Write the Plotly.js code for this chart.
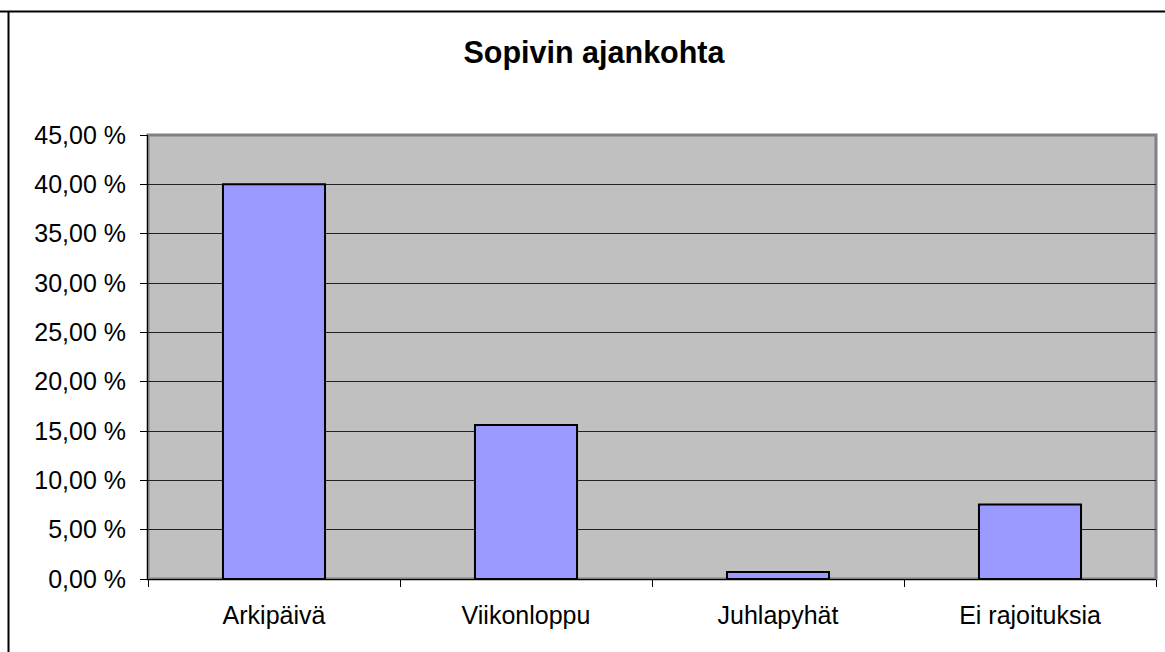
<!DOCTYPE html>
<html>
<head>
<meta charset="utf-8">
<script src="https://cdn.plot.ly/plotly-3.0.1.min.js"></script>
<style>
html,body{margin:0;padding:0;background:#fff;}
#chart{width:1165px;height:652px;}
</style>
</head>
<body>
<div id="chart"></div>
<script>
const titleText = "Sopivin ajankohta";
const categories = ["Arkipäivä", "Viikonloppu", "Juhlapyhät", "Ei rajoituksia"];
const values = [40.0, 15.6, 0.7, 7.55];
const yTickVals = [0, 5, 10, 15, 20, 25, 30, 35, 40, 45];
const yTickText = ["0,00 %", "5,00 %", "10,00 %", "15,00 %", "20,00 %", "25,00 %", "30,00 %", "35,00 %", "40,00 %", "45,00 %"];

const FONT = "Liberation Sans, Arial, sans-serif";

const trace = {
  type: "bar",
  x: categories,
  y: values,
  marker: {color: "#9999FF", line: {color: "#000000", width: 2}},
  hoverinfo: "skip"
};

const layout = {
  width: 1165,
  height: 652,
  margin: {l: 148, r: 9, t: 135, b: 73},
  paper_bgcolor: "#FFFFFF",
  plot_bgcolor: "#C0C0C0",
  font: {family: FONT, size: 25, color: "#000"},
  title: {text: "<b>" + titleText + "</b>", font: {family: FONT, size: 30.5, color: "#000"}, x: 594/1165, xanchor: "center", y: 1 - 52/652, yanchor: "middle"},
  showlegend: false,
  bargap: 0.595,
  xaxis: {
    type: "category",
    showline: true, linecolor: "#000", linewidth: 1,
    ticks: "outside", tickson: "boundaries", ticklen: 7, tickcolor: "#000",
    tickfont: {family: FONT, size: 25, color: "#000"},
    ticklabelstandoff: 14,
    showgrid: false, zeroline: false
  },
  yaxis: {
    range: [0, 45],
    tickmode: "array",
    tickvals: yTickVals,
    ticktext: yTickText,
    tickfont: {family: FONT, size: 25, color: "#000"},
    showline: true, linecolor: "#000", linewidth: 1,
    ticks: "outside", ticklen: 7, tickcolor: "#000",
    ticklabelstandoff: 9,
    showgrid: true, gridcolor: "#222", gridwidth: 1,
    zeroline: false
  },
  shapes: [
    {type: "rect", xref: "paper", yref: "paper", x0: 0, x1: 1, y0: 0, y1: 1,
     line: {color: "#808080", width: 3}, layer: "below"},
    {type: "line", xref: "paper", yref: "paper", x0: -148/1008, x1: 1.05, y0: 1 + 123.5/444, y1: 1 + 123.5/444,
     line: {color: "#000", width: 2}},
    {type: "line", xref: "paper", yref: "paper", x0: -139.5/1008, x1: -139.5/1008, y0: 1 + 123.5/444, y1: -0.2,
     line: {color: "#000", width: 2}}
  ]
};

Plotly.newPlot("chart", [trace], layout, {staticPlot: true, displayModeBar: false});
</script>
</body>
</html>
